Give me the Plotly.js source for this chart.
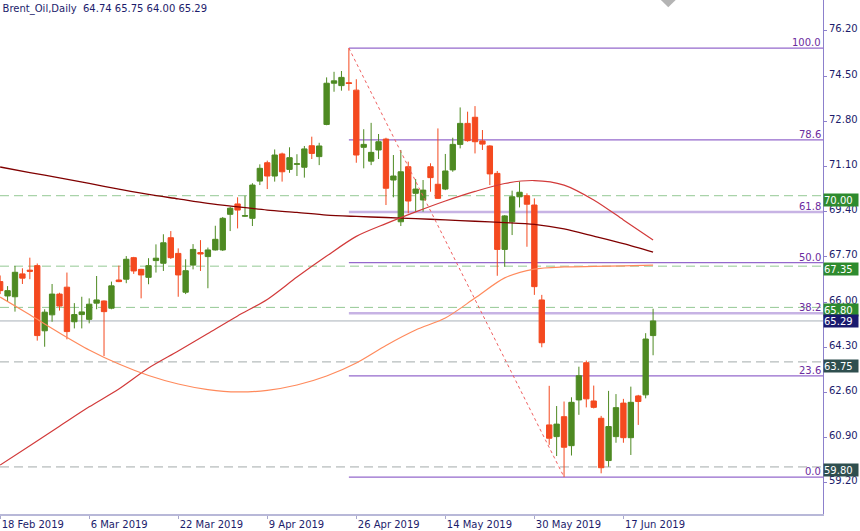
<!DOCTYPE html>
<html><head><meta charset="utf-8">
<script src="https://cdn.plot.ly/plotly-3.0.1.min.js"></script>
<style>html,body{margin:0;padding:0;background:#fff;}#chart{width:860px;height:531px;}</style>
</head><body><div id="chart"></div>
<script>
const dates = [
 '2019-02-18','2019-02-19','2019-02-20','2019-02-21','2019-02-22','2019-02-25','2019-02-26','2019-02-27','2019-02-28',
 '2019-03-01','2019-03-04','2019-03-05','2019-03-06','2019-03-07','2019-03-08','2019-03-11','2019-03-12','2019-03-13','2019-03-14','2019-03-15',
 '2019-03-18','2019-03-19','2019-03-20','2019-03-21','2019-03-22','2019-03-25','2019-03-26','2019-03-27','2019-03-28','2019-03-29',
 '2019-04-01','2019-04-02','2019-04-03','2019-04-04','2019-04-05','2019-04-08','2019-04-09','2019-04-10','2019-04-11','2019-04-12',
 '2019-04-15','2019-04-16','2019-04-17','2019-04-18','2019-04-22','2019-04-23','2019-04-24','2019-04-25','2019-04-26','2019-04-29','2019-04-30',
 '2019-05-01','2019-05-02','2019-05-03','2019-05-06','2019-05-07','2019-05-08','2019-05-09','2019-05-10','2019-05-13','2019-05-14',
 '2019-05-15','2019-05-16','2019-05-17','2019-05-20','2019-05-21','2019-05-22','2019-05-23','2019-05-24','2019-05-27','2019-05-28','2019-05-29','2019-05-30','2019-05-31',
 '2019-06-03','2019-06-04','2019-06-05','2019-06-06','2019-06-07','2019-06-10','2019-06-11','2019-06-12','2019-06-13','2019-06-14',
 '2019-06-17','2019-06-18','2019-06-19','2019-06-20','2019-06-21'];
const open = [66.77,66.23,66.20,67.06,67.20,67.37,64.92,65.52,66.30,66.56,65.26,65.53,65.35,65.96,66.04,65.77,66.83,66.86,67.67,67.23,
 66.93,67.56,67.46,68.42,67.83,66.37,67.39,67.86,67.71,67.96,67.96,69.30,69.69,69.23,69.15,70.55,71.24,70.74,71.57,70.99,
 71.18,71.07,71.88,71.47,72.68,74.23,74.14,74.25,73.97,71.82,71.30,71.72,72.13,70.59,69.02,71.09,70.09,69.84,71.09,70.43,
 70.25,70.97,71.93,72.72,72.95,72.06,71.87,70.84,67.98,69.02,69.96,70.00,69.65,66.08,61.38,60.94,61.69,60.60,62.32,63.72,
 62.28,61.63,60.04,60.94,62.20,60.90,62.47,62.51,64.74];
const high = [67.00,66.60,67.36,67.27,67.67,67.45,65.73,66.68,66.35,67.11,65.96,66.20,66.14,66.98,66.06,66.77,67.37,67.73,67.70,67.25,
 67.65,68.17,68.55,68.67,68.02,67.61,68.18,68.33,68.05,68.87,69.20,69.58,69.94,70.00,70.47,71.18,71.32,71.74,71.62,71.82,
 71.56,71.87,72.22,71.99,74.45,74.66,74.69,75.55,74.38,72.50,72.74,72.32,72.18,71.53,71.72,71.28,70.63,70.59,71.22,72.53,
 71.57,72.18,73.32,73.16,73.37,72.47,71.90,70.93,69.27,70.19,70.53,70.09,69.90,66.27,62.85,62.09,62.26,62.42,63.57,63.80,
 62.86,61.72,62.66,62.54,62.36,62.82,62.51,64.83,65.75];
const low = [66.30,66.02,65.64,66.68,66.86,64.55,64.32,65.26,65.68,64.60,65.01,65.01,65.20,65.73,63.97,65.73,66.75,66.71,67.06,66.14,
 66.67,67.11,67.17,67.62,66.20,66.30,67.23,67.17,66.52,67.94,67.92,68.67,68.77,69.20,68.86,70.40,70.25,70.53,70.53,70.86,
 70.74,70.68,71.38,71.15,72.65,73.91,73.95,73.95,71.24,71.03,71.15,71.38,69.65,69.94,68.86,69.34,69.40,69.40,70.15,69.88,
 70.21,70.90,71.78,72.03,71.59,71.72,70.40,66.99,67.33,68.52,69.56,68.08,66.27,64.30,60.63,60.21,59.42,60.23,61.76,62.04,
 62.00,59.56,59.81,60.71,60.71,60.25,61.38,62.38,64.00];
const close = [66.43,66.43,67.12,66.90,67.16,64.74,65.62,66.30,65.85,64.89,65.53,65.63,65.92,66.08,65.64,66.61,66.77,67.61,67.17,67.02,
 67.37,67.65,68.23,67.67,67.02,67.18,67.98,67.81,67.96,68.36,69.15,69.53,69.46,69.25,70.40,71.03,70.74,71.53,70.90,71.43,
 71.20,71.76,71.59,71.87,74.23,74.32,74.45,74.22,71.53,71.93,71.63,72.03,70.28,70.74,70.90,69.80,70.25,70.21,70.68,69.90,
 70.93,71.93,72.72,72.07,72.03,71.94,70.82,67.98,69.24,69.96,70.13,69.68,66.58,64.47,60.88,61.41,60.54,62.23,63.23,62.36,
 62.04,59.77,61.32,62.03,60.90,62.23,62.26,64.61,65.29];

// moving averages, read every 4th bar
const maDates = ['2019-02-18','2019-02-22','2019-02-28','2019-03-06','2019-03-12','2019-03-18','2019-03-22','2019-03-28',
 '2019-04-03','2019-04-09','2019-04-15','2019-04-22','2019-04-26','2019-05-02','2019-05-08','2019-05-14','2019-05-20',
 '2019-05-24','2019-05-30','2019-06-05','2019-06-11','2019-06-17','2019-06-21'];
const maMaroon = [71.08,70.87,70.67,70.46,70.25,70.05,69.88,69.71,69.58,69.46,69.37,69.27,69.22,69.18,69.14,69.09,69.04,68.99,68.92,68.75,68.48,68.20,67.88];
const maRed = [59.87,60.60,61.33,62.06,62.73,63.52,64.16,64.82,65.48,66.10,66.94,67.73,68.47,68.95,69.39,69.80,70.16,70.46,70.57,70.40,69.84,69.09,68.33];
const maCoral = [66.19,65.52,64.84,64.20,63.67,63.24,62.92,62.71,62.62,62.68,62.88,63.22,63.71,64.37,64.95,65.40,66.15,66.91,67.24,67.32,67.34,67.36,67.39];

// Fibonacci retracement
const fibHighDate = '2019-04-25', fibHigh = 75.55;
const fibLowDate = '2019-06-05', fibLow = 59.42;
const fibLevels = [0, 23.6, 38.2, 50, 61.8, 78.6, 100];
const fibLabels = ['0.0','23.6','38.2','50.0','61.8','78.6','100.0'];

// horizontal levels and price labels
const greenLevels = [70.00, 67.35, 65.80];
const greyLevels = [63.75, 59.80];
const bidPrice = 65.29;

const tickDates = ['2019-02-18','2019-03-06','2019-03-22','2019-04-09','2019-04-26','2019-05-14','2019-05-30','2019-06-17'];
const tickLabels = ['18 Feb 2019','6 Mar 2019','22 Mar 2019','9 Apr 2019','26 Apr 2019','14 May 2019','30 May 2019','17 Jun 2019'];
const priceTicks = [59.20,60.90,62.60,64.30,66.00,67.70,69.40,71.10,72.80,74.50,76.20];

const FONT = 'DejaVu Sans';
const NAVY = '#1c1c6b';
const GREEN = '#4e8a22', RED = '#f4491f';
const xRange = [-0.02, 110.9];
const yRange = [58.03, 77.36];

const traces = [
 {type:'candlestick', x:dates, open:open, high:high, low:low, close:close,
  increasing:{line:{color:GREEN,width:1}, fillcolor:GREEN},
  decreasing:{line:{color:RED,width:1}, fillcolor:RED},
  whiskerwidth:0, hoverinfo:'skip'},
 {type:'scatter', mode:'lines', x:maDates, y:maMaroon, line:{color:'#800000', width:1.3, shape:'spline', smoothing:0.8}, hoverinfo:'skip'},
 {type:'scatter', mode:'lines', x:maDates, y:maRed, line:{color:'#d23a3a', width:1.2, shape:'spline', smoothing:0.8}, hoverinfo:'skip'},
 {type:'scatter', mode:'lines', x:maDates, y:maCoral, line:{color:'#ff8a5c', width:1.2, shape:'spline', smoothing:0.8}, hoverinfo:'skip'}
];

const shapes = [];
const annotations = [];
greenLevels.forEach(v => shapes.push({type:'line', layer:'below', xref:'paper', x0:0, x1:1, yref:'y', y0:v, y1:v,
  line:{color:'#93c893', width:1, dash:'9px,5px'}}));
greyLevels.forEach(v => shapes.push({type:'line', layer:'below', xref:'paper', x0:0, x1:1, yref:'y', y0:v, y1:v,
  line:{color:'#a3abab', width:1, dash:'9px,5px'}}));
shapes.push({type:'line', layer:'below', xref:'paper', x0:0, x1:1, yref:'y', y0:bidPrice, y1:bidPrice,
  line:{color:'#a8b0b8', width:1}});
fibLevels.forEach((L, k) => {
  const v = fibLow + (fibHigh - fibLow) * L / 100;
  const wide = (L === 61.8 || L === 38.2);
  shapes.push({type:'line', layer:'below', xref:'x', x0:fibHighDate, x1:xRange[1], yref:'y', y0:v, y1:v,
    line:{color: wide ? '#c7b3e4' : '#9468cc', width: wide ? 2.5 : 1.2}});
  annotations.push({xref:'paper', x:1, xanchor:'right', xshift:-1, yref:'y', y:v, yanchor:'bottom', yshift:-1,
    text:fibLabels[k], showarrow:false, font:{family:FONT, size:10, color:'#6b2c9e'}, borderpad:0});
});
shapes.push({type:'line', layer:'above', xref:'x', x0:fibHighDate, x1:fibLowDate, yref:'y', y0:fibHigh, y1:fibLow,
  line:{color:'#f06060', width:1, dash:'dot'}});
// chart shift marker
shapes.push({type:'path', xref:'paper', yref:'paper', path:'M 0.803 1 L 0.821 1 L 0.812 0.986 Z',
  fillcolor:'#b4b4b4', line:{width:0}});

const boxes = [
 {v:70.00, c:'#2e8b2e', s:-4}, {v:67.35, c:'#2e8b2e', s:-3}, {v:65.80, c:'#2e8b2e', s:-3},
 {v:bidPrice, c:'#1a1a6e', s:0}, {v:63.75, c:'#2f4f4f', s:-4}, {v:59.80, c:'#2f4f4f', s:-3.5}];
boxes.forEach(b => annotations.push({xref:'paper', x:1, xanchor:'left', xshift:0, yref:'y', y:b.v, yanchor:'middle', yshift:b.s,
  text:b.v.toFixed(2), showarrow:false, bgcolor:b.c, font:{family:FONT, size:10, color:'#ffffff'},
  width:34, height:12, align:'left', borderpad:0}));

const layout = {
  width:860, height:531, margin:{l:0, r:37, t:0, b:17},
  paper_bgcolor:'#ffffff', plot_bgcolor:'#ffffff', showlegend:false,
  boxgap:0.2, boxgroupgap:0.1,
  title:{text:'Brent_Oil,Daily  64.74 65.75 64.00 65.29', xref:'container', x:0.003, xanchor:'left',
    yref:'container', y:1 - 8/531, yanchor:'middle', font:{family:FONT, size:10, color:NAVY}},
  xaxis:{type:'category', range:xRange, rangeslider:{visible:false}, tickmode:'array', tickvals:tickDates, ticktext:tickLabels,
    ticks:'outside', ticklen:3, tickcolor:'#a8a8cc', showline:true, linecolor:'#b8b8d8', linewidth:2,
    showgrid:false, zeroline:false, ticklabelposition:'outside right', tickfont:{family:FONT, size:10, color:NAVY}, fixedrange:true},
  yaxis:{side:'right', range:yRange, tickmode:'array', tickvals:priceTicks, ticktext:priceTicks.map(v=>v.toFixed(2)),
    ticks:'outside', ticklen:3, tickcolor:'#8c80cc', showline:true, linecolor:'#8c80cc', linewidth:1,
    showgrid:false, zeroline:false, ticklabelshift:-2, tickfont:{family:FONT, size:10, color:NAVY}, fixedrange:true},
  shapes:shapes, annotations:annotations
};
Plotly.newPlot('chart', traces, layout, {displayModeBar:false, staticPlot:true});
</script></body></html>
